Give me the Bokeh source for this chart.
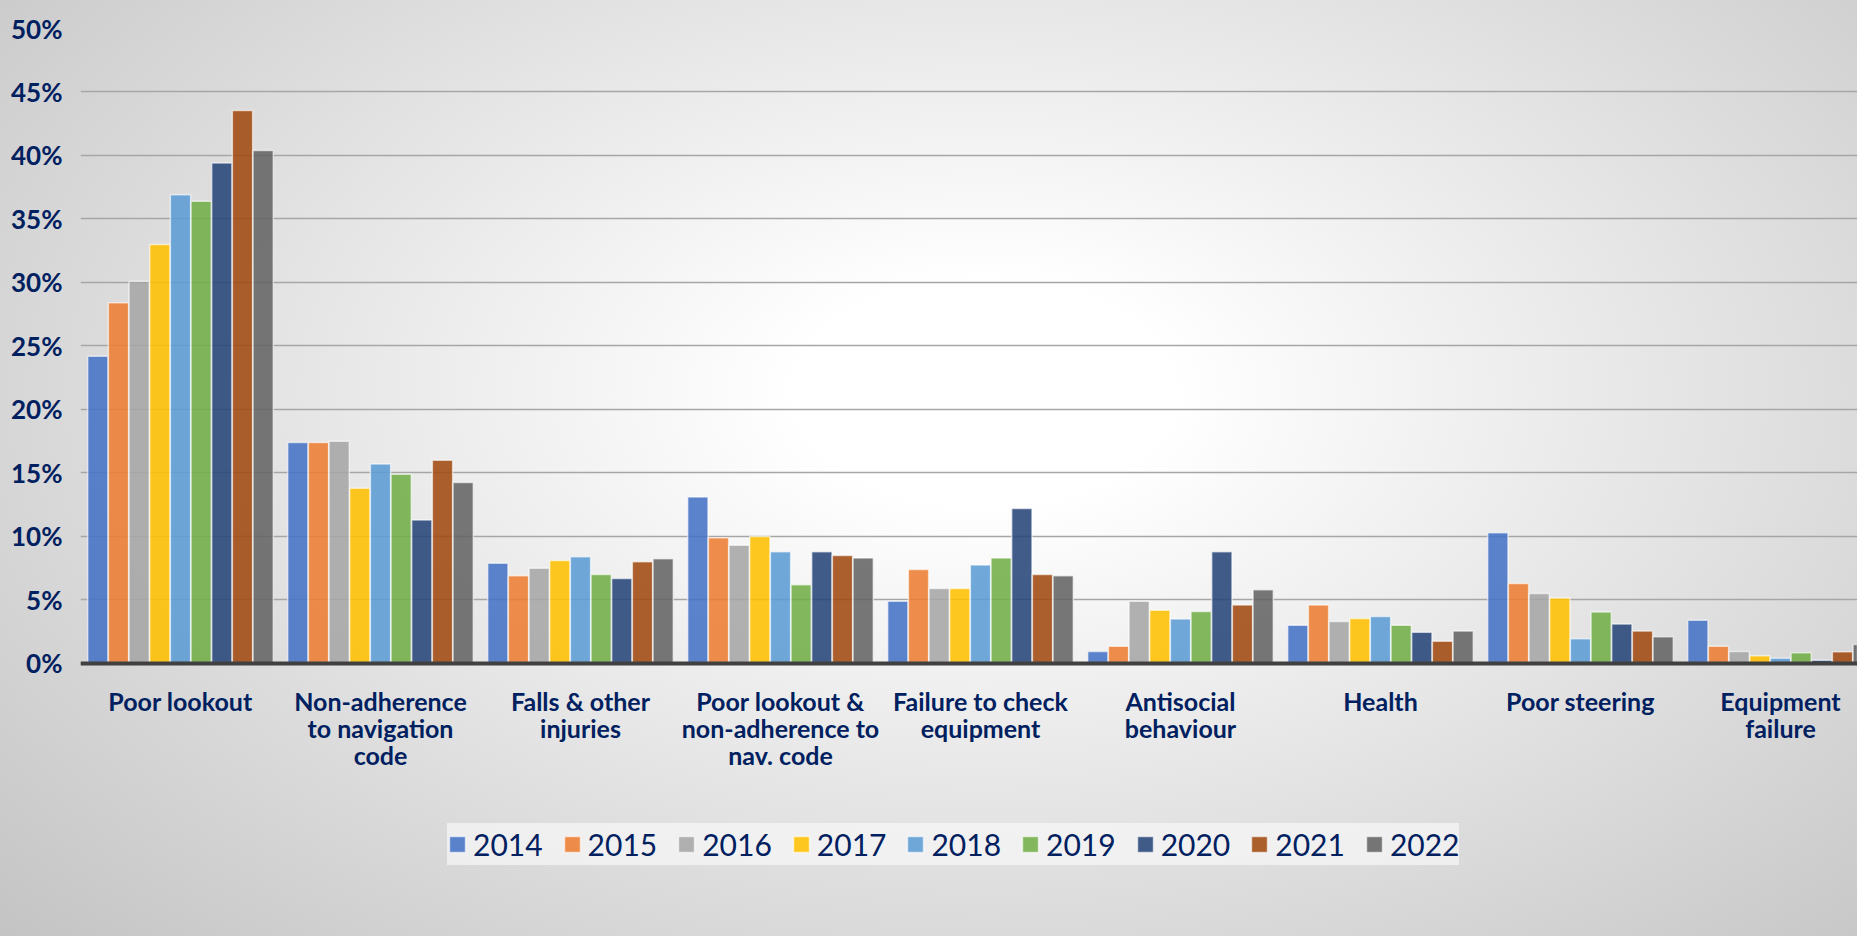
import numpy as np
from bokeh.plotting import figure
from bokeh.models import (ColumnDataSource, FixedTicker, Legend, LegendItem,
                          PrintfTickFormatter, Range1d)
from bokeh.transform import dodge
from bokeh.embed import file_html
from bokeh.resources import INLINE

categories = [
    "Poor lookout",
    "Non-adherence\nto navigation\ncode",
    "Falls & other\ninjuries",
    "Poor lookout &\nnon-adherence to\nnav. code",
    "Failure to check\nequipment",
    "Antisocial\nbehaviour",
    "Health",
    "Poor steering",
    "Equipment\nfailure",
]
years = ["2014", "2015", "2016", "2017", "2018", "2019", "2020", "2021", "2022"]

v2014 = [24.2, 17.4, 7.9, 13.1, 4.9, 0.95, 3.0, 10.3, 3.4]
v2015 = [28.4, 17.4, 6.9, 9.9, 7.4, 1.35, 4.6, 6.3, 1.35]
v2016 = [30.1, 17.5, 7.5, 9.3, 5.9, 4.9, 3.3, 5.5, 0.95]
v2017 = [33.0, 13.8, 8.1, 10.0, 5.9, 4.2, 3.55, 5.15, 0.6]
v2018 = [36.9, 15.7, 8.4, 8.8, 7.75, 3.5, 3.7, 1.95, 0.42]
v2019 = [36.4, 14.9, 7.0, 6.2, 8.3, 4.1, 3.0, 4.05, 0.85]
v2020 = [39.4, 11.3, 6.7, 8.8, 12.2, 8.8, 2.45, 3.1, 0.25]
v2021 = [43.55, 16.0, 8.0, 8.5, 7.0, 4.6, 1.75, 2.55, 0.92]
v2022 = [40.4, 14.25, 8.25, 8.3, 6.9, 5.8, 2.55, 2.1, 1.5]

series = [v2014, v2015, v2016, v2017, v2018, v2019, v2020, v2021, v2022]
colors = ["#4472C4", "#ED7D31", "#A5A5A5", "#FFC000", "#5B9BD5",
          "#70AD47", "#264478", "#9E480E", "#636363"]
y_ticks = list(range(0, 51, 5))

navy = "#002060"
xpos = [i + 0.5 for i in range(len(categories))]

data = {"x": xpos}
for y, s in zip(years, series):
    data["y" + y] = s
src = ColumnDataSource(data)

# frame runs from the 50% line down to the bottom of the figure;
# the category axis is pinned at 0%
p = figure(width=1857, height=936, output_backend="svg", toolbar_location=None,
           x_range=Range1d(0, 8.885), y_range=Range1d(-21.5, 50),
           min_border_left=80, min_border_right=0, min_border_top=28,
           min_border_bottom=0)
p.styles = {"background": "radial-gradient(ellipse 72% 85% at 53% 42%, #ffffff 0%, #ffffff 14%, #c4c4c4 100%)"}
p.border_fill_alpha = 0
p.background_fill_alpha = 0
p.outline_line_color = None

bw = 0.93 / 9
renderers = []
for j, (y, c) in enumerate(zip(years, colors)):
    off = -0.465 + (j + 0.5) * bw
    r = p.vbar(x=dodge("x", off, range=p.x_range), top="y" + y, bottom=0,
               width=bw * 0.98, source=src, fill_color=c, fill_alpha=0.87,
               line_color="white", line_alpha=0.6, line_width=1.5)
    renderers.append(r)

# axes
p.xaxis.fixed_location = 0
p.xaxis.ticker = FixedTicker(ticks=xpos)
p.xaxis.major_label_overrides = {x: c for x, c in zip(xpos, categories)}
p.xaxis.major_label_text_font = "Lato"
p.xaxis.major_label_text_font_style = "bold"
p.xaxis.major_label_text_font_size = "25px"
p.xaxis.major_label_text_color = navy
p.xaxis.major_label_text_line_height = 0.9
p.xaxis.major_label_standoff = 23
p.xaxis.axis_line_color = "#404040"
p.xaxis.axis_line_width = 4
p.xaxis.major_tick_line_color = None
p.xaxis.minor_tick_line_color = None
p.xaxis.major_tick_out = 0
p.xaxis.major_tick_in = 0

p.yaxis.ticker = FixedTicker(ticks=y_ticks)
p.yaxis.formatter = PrintfTickFormatter(format="%d%%")
p.yaxis.major_label_text_font = "Lato"
p.yaxis.major_label_text_font_style = "bold"
p.yaxis.major_label_text_font_size = "26px"
p.yaxis.major_label_text_color = navy
p.yaxis.major_label_standoff = 18
p.yaxis.axis_line_color = None
p.yaxis.major_tick_line_color = None
p.yaxis.minor_tick_line_color = None
p.yaxis.major_tick_out = 0
p.yaxis.major_tick_in = 0

p.xgrid.grid_line_color = None
p.ygrid.ticker = FixedTicker(ticks=y_ticks)
p.ygrid.grid_line_color = "#a6a6a6"
p.ygrid.grid_line_width = 1.5

legend = Legend(items=[LegendItem(label=y, renderers=[r]) for y, r in zip(years, renderers)],
                orientation="horizontal", location=(367, 71))
legend.label_text_font = "Lato"
legend.label_text_font_size = "30px"
legend.label_text_color = navy
legend.label_height = 42
legend.glyph_width = 20
legend.glyph_height = 20
legend.label_standoff = 6
legend.spacing = 19
legend.padding = 4
legend.margin = 0
legend.background_fill_color = "#f8f8f8"
legend.background_fill_alpha = 0.7
legend.border_line_color = None
p.add_layout(legend)

open("out.html", "w").write(file_html(p, INLINE))
